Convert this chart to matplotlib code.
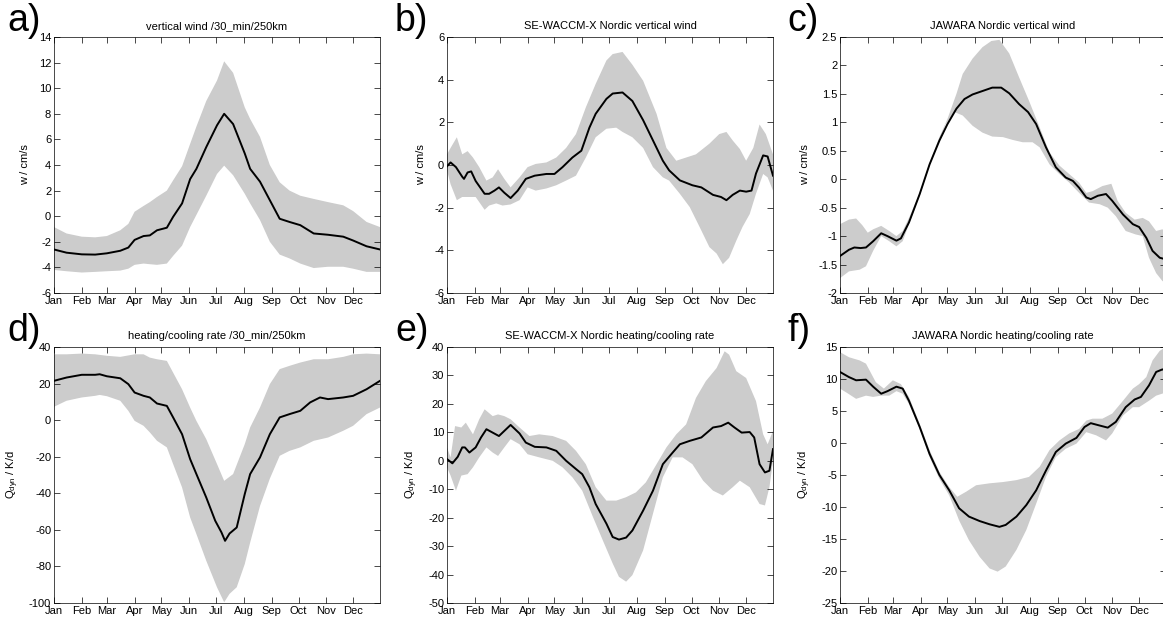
import matplotlib
matplotlib.use("Agg")
import matplotlib.pyplot as plt
from matplotlib.ticker import FuncFormatter

plt.rcParams['font.family'] = ['Liberation Sans', 'DejaVu Sans']
plt.rcParams['mathtext.fontset'] = 'custom'
plt.rcParams['mathtext.rm'] = 'Liberation Sans'
plt.rcParams['mathtext.it'] = 'Liberation Sans:italic'
plt.rcParams['axes.unicode_minus'] = False

months = ['Jan', 'Feb', 'Mar', 'Apr', 'May', 'Jun', 'Jul', 'Aug', 'Sep', 'Oct', 'Nov', 'Dec']
month_start = [1, 32, 60, 91, 121, 152, 182, 213, 244, 274, 305, 335]

# a) vertical wind /30_min/250km
a_day = [1, 15, 32, 47, 60, 75, 84, 91, 101, 108, 116, 127, 134, 144, 153, 160, 171,
         183, 191, 201, 214, 220, 231, 242, 253, 264, 276, 291, 307, 324, 335, 350, 365]
a_mean = [-2.6, -2.85, -2.98, -3.0, -2.9, -2.7, -2.45, -1.85, -1.55, -1.5, -1.1, -0.9, -0.05,
          1.0, 2.9, 3.7, 5.4, 7.1, 8.0, 7.2, 4.9, 3.7, 2.7, 1.25, -0.2, -0.45, -0.7, -1.35,
          -1.45, -1.6, -1.9, -2.35, -2.6]
a_up = [-0.85, -1.35, -1.6, -1.65, -1.55, -1.1, -0.6, 0.35, 0.8, 1.1, 1.5, 2.0, 2.8, 3.9, 5.65,
        7.0, 9.0, 10.6, 12.1, 11.2, 8.5, 7.6, 6.2, 4.0, 2.65, 2.0, 1.6, 1.35, 1.1, 0.85, 0.4,
        -0.45, -0.85]
a_lo = [-4.2, -4.3, -4.4, -4.35, -4.3, -4.25, -4.1, -3.8, -3.7, -3.75, -3.8, -3.7, -3.1, -2.3,
        -0.85, 0.1, 1.6, 3.3, 3.95, 3.2, 1.75, 1.0, -0.3, -2.0, -3.0, -3.3, -3.7, -4.05, -3.95,
        -3.95, -4.1, -4.35, -4.35]

# b) SE-WACCM-X vertical wind
b_mean_day = [1, 5, 11, 18, 20, 24, 28, 33, 43, 48, 54, 59, 65, 72, 80, 89, 99, 112, 121, 130,
              141, 151, 160, 167, 179, 186, 197, 208, 220, 231, 242, 249, 261, 275, 285, 298,
              307, 313, 320, 328, 335, 341, 346, 354, 359, 365]
b_mean = [-0.06, 0.12, -0.1, -0.55, -0.65, -0.35, -0.3, -0.75, -1.35, -1.35, -1.2, -1.05, -1.3,
          -1.55, -1.2, -0.65, -0.5, -0.42, -0.42, -0.1, 0.35, 0.67, 1.75, 2.4, 3.1, 3.35, 3.4,
          3.0, 2.1, 1.15, 0.2, -0.25, -0.72, -0.95, -1.05, -1.4, -1.5, -1.65, -1.4, -1.2, -1.25,
          -1.2, -0.4, 0.45, 0.4, -0.5]
b_up_day = [1, 5, 12, 18, 24, 30, 37, 45, 52, 58, 65, 72, 82, 91, 100, 112, 123, 134, 145, 156,
            167, 179, 186, 197, 208, 220, 235, 246, 257, 268, 279, 294, 305, 313, 320, 328,
            335, 343, 350, 357, 365]
b_up = [0.5, 0.8, 1.3, 0.5, 0.65, 0.35, -0.1, -0.73, -0.58, -0.2, -0.65, -1.05, -0.58, -0.1,
        0.05, 0.12, 0.35, 0.8, 1.45, 2.7, 3.8, 4.9, 5.2, 5.3, 4.7, 3.95, 2.4, 0.8, 0.2, 0.35,
        0.5, 1.0, 1.45, 1.55, 1.15, 0.75, 0.2, 0.8, 1.9, 1.45, 0.5]
b_lo_day = [1, 5, 12, 18, 24, 33, 43, 48, 56, 63, 72, 82, 91, 100, 112, 123, 134, 145, 156, 167,
            179, 190, 197, 208, 220, 231, 242, 249, 261, 272, 283, 294, 302, 309, 316, 324,
            331, 339, 346, 354, 359, 365]
b_lo = [-0.25, -0.9, -1.65, -1.5, -1.5, -1.5, -2.1, -1.9, -1.8, -1.9, -1.85, -1.65, -1.05, -1.2,
        -1.1, -0.95, -0.73, -0.5, 0.35, 1.3, 1.7, 1.75, 1.55, 1.3, 0.8, -0.1, -0.58, -0.73,
        -1.35, -1.97, -2.9, -3.85, -4.15, -4.65, -4.35, -3.55, -2.9, -2.3, -1.35, -0.42,
        -0.58, -1.2]

# c) JAWARA vertical wind
c_mean_day = [1, 11, 17, 24, 30, 38, 47, 54, 64, 69, 78, 90, 101, 112, 121, 131, 140, 149, 160,
              171, 181, 190, 201, 211, 220, 231, 242, 253, 261, 268, 276, 281, 289, 298, 305,
              317, 328, 335, 343, 350, 358, 365]
c_mean = [-1.35, -1.24, -1.2, -1.21, -1.2, -1.09, -0.95, -1.0, -1.08, -1.04, -0.76, -0.26, 0.26,
          0.68, 0.97, 1.24, 1.41, 1.49, 1.55, 1.61, 1.61, 1.51, 1.32, 1.18, 0.97, 0.56, 0.21,
          0.03, -0.03, -0.15, -0.32, -0.35, -0.29, -0.26, -0.38, -0.62, -0.79, -0.84, -1.03,
          -1.26, -1.38, -1.41]
c_up_day = [1, 11, 19, 26, 32, 38, 47, 56, 64, 71, 78, 90, 101, 112, 121, 131, 138, 149, 160,
            170, 179, 190, 201, 212, 224, 235, 246, 257, 268, 276, 283, 294, 304, 311, 320,
            330, 339, 346, 354, 361, 365]
c_up = [-0.79, -0.71, -0.69, -0.81, -0.94, -0.88, -0.82, -0.91, -1.0, -0.91, -0.68, -0.24, 0.29,
        0.74, 1.06, 1.5, 1.85, 2.12, 2.32, 2.43, 2.45, 2.21, 1.79, 1.38, 0.91, 0.47, 0.24, 0.09,
        -0.06, -0.24, -0.21, -0.12, -0.08, -0.38, -0.59, -0.71, -0.68, -0.74, -0.91, -0.88,
        -0.94]
c_lo_day = [1, 11, 23, 30, 38, 47, 56, 64, 71, 78, 90, 101, 112, 119, 129, 138, 149, 160, 171,
            183, 194, 205, 216, 224, 235, 246, 257, 268, 279, 291, 300, 309, 320, 331, 339,
            346, 354, 361, 365]
c_lo = [-1.74, -1.62, -1.59, -1.53, -1.26, -1.0, -1.09, -1.18, -1.09, -0.79, -0.29, 0.24, 0.68,
        0.97, 1.18, 1.12, 0.94, 0.82, 0.75, 0.74, 0.69, 0.65, 0.65, 0.56, 0.26, 0.09, -0.06,
        -0.24, -0.41, -0.44, -0.5, -0.65, -0.91, -0.97, -1.0, -1.38, -1.65, -1.79, -1.82]

# d) heating/cooling rate /30_min/250km
d_mean_day = [1, 15, 32, 47, 52, 60, 75, 84, 91, 101, 108, 116, 127, 134, 144, 153, 160, 171,
              181, 188, 192, 197, 205, 214, 220, 231, 242, 253, 264, 276, 287, 298, 307, 324,
              335, 350, 365]
d_mean = [21.5, 23.3, 24.8, 24.8, 25.1, 24.0, 22.9, 19.7, 15.1, 13.3, 12.4, 9.1, 7.8, 1.5, -7.7,
          -21.3, -29.5, -42.3, -55, -61.4, -66, -62, -58.7, -40.4, -29.5, -20.4, -7.7, 1.5, 3.3,
          5.1, 9.7, 12.4, 11.5, 12.4, 13.3, 16.9, 21.5]
d_up_day = [1, 15, 32, 47, 60, 75, 91, 101, 108, 116, 127, 134, 144, 153, 160, 171, 183, 191,
            201, 214, 220, 231, 242, 253, 264, 276, 291, 307, 324, 335, 350, 365]
d_up = [36, 36, 36.4, 36, 35.2, 34.6, 36, 36, 34.2, 33.3, 32.4, 26, 16.9, 6.9, -0.4, -10.4, -24,
        -33.2, -29.5, -13.1, -4.0, 6.9, 19.7, 27.9, 29.7, 31.5, 33.3, 33.3, 34.6, 36, 36.4, 36]
d_lo_day = [1, 15, 32, 47, 52, 60, 75, 84, 91, 101, 108, 116, 127, 134, 144, 153, 160, 171, 183,
            191, 197, 205, 214, 220, 231, 242, 253, 264, 276, 291, 307, 324, 335, 350, 365]
d_lo = [7.3, 10.6, 12.4, 13.3, 13.8, 13.1, 10.6, 5.1, -0.4, -3.1, -6.7, -11.3, -14.9, -24, -36.8,
        -53.2, -62.3, -76.9, -91.4, -99.6, -95, -91.4, -78.7, -67, -47, -32, -19.5, -16.8,
        -14.9, -11.3, -9.5, -5.8, -3.1, 3.3, 6.9]

# e) SE-WACCM-X heating/cooling rate
e_mean_day = [1, 7, 13, 18, 21, 26, 33, 39, 45, 52, 59, 67, 72, 82, 89, 99, 112, 123, 134, 145,
              152, 160, 167, 179, 186, 193, 201, 208, 220, 231, 242, 253, 261, 272, 285, 298,
              307, 315, 322, 330, 339, 344, 350, 356, 361, 365]
e_mean = [0.6, -0.9, 1.4, 4.7, 4.7, 2.9, 4.7, 8.2, 11.1, 9.9, 8.7, 11.1, 12.6, 9.6, 6.4, 4.9, 4.7,
          3.5, 0, -2.9, -4.7, -9.3, -15.2, -22.1, -26.8, -27.7, -27.0, -24.5, -17.5, -10.5,
          -1.2, 2.9, 5.8, 7.0, 8.2, 11.7, 12.2, 13.4, 11.7, 9.9, 10.1, 8.2, -1.2, -4.1, -3.5, 4.1]
e_up_day = [1, 5, 10, 17, 22, 30, 37, 43, 52, 58, 65, 72, 82, 93, 104, 119, 134, 145, 156, 167,
            179, 190, 201, 212, 223, 235, 246, 257, 268, 279, 290, 302, 311, 316, 324, 335,
            346, 354, 359, 365]
e_up = [4.7, 1.2, 12.2, 11.7, 13.4, 9.3, 14.6, 18.1, 15.7, 16.3, 15.7, 14.6, 11.7, 8.7, 9.3, 8.7,
        7.0, 3.5, -1.2, -9.3, -14.0, -14.0, -12.8, -11.1, -7.6, -1.2, 4.7, 9.3, 12.8, 22.1,
        28.0, 32.6, 38.5, 37.3, 31.5, 29.1, 21.0, 9.3, 5.8, 10.5]
e_lo_day = [1, 5, 11, 17, 24, 30, 37, 45, 52, 58, 65, 72, 82, 91, 104, 119, 130, 141, 152, 164,
            175, 186, 193, 201, 208, 220, 231, 242, 253, 264, 275, 287, 298, 309, 320, 328,
            339, 350, 356, 361, 365]
e_lo = [-2.3, -5.2, -10.5, -5.2, -4.7, -2.3, 1.2, 4.7, 2.9, 1.7, 4.7, 7.6, 5.8, 2.3, 1.2, 0,
        -2.3, -5.8, -10.5, -19.8, -28.0, -36.1, -40.8, -42.5, -40.2, -31.5, -18.6, -5.8, 1.2,
        1.2, -1.2, -7.0, -10.5, -12.2, -9.3, -7.0, -9.3, -15.2, -15.7, -9.3, 0]

# f) JAWARA heating/cooling rate
f_mean_day = [1, 11, 19, 30, 38, 47, 54, 64, 71, 78, 90, 101, 112, 123, 134, 145, 157, 168, 179,
              186, 198, 209, 220, 231, 242, 253, 265, 274, 281, 289, 300, 309, 320, 330, 337,
              346, 354, 361, 365]
f_mean = [11.1, 10.3, 9.8, 9.9, 8.8, 7.7, 8.1, 8.8, 8.5, 6.6, 2.5, -1.7, -5.0, -7.4, -10.2, -11.5,
          -12.2, -12.7, -13.1, -12.8, -11.5, -9.7, -7.4, -4.3, -1.4, -0.1, 0.8, 2.5, 3.1, 2.8,
          2.4, 3.3, 5.6, 6.8, 7.2, 9.0, 11.1, 11.5, 11.3]
f_up_day = [1, 11, 23, 30, 41, 50, 60, 69, 78, 90, 101, 112, 123, 132, 142, 153, 168, 183, 198,
            212, 224, 235, 246, 257, 268, 276, 283, 294, 305, 317, 328, 335, 343, 350, 358, 365]
f_up = [14.2, 13.4, 12.9, 12.4, 9.5, 8.5, 9.8, 9.2, 7.2, 3.0, -1.1, -4.5, -6.9, -8.4, -7.6, -6.6,
        -6.3, -6.1, -5.8, -5.3, -3.7, -1.1, 0.4, 1.5, 2.2, 3.5, 3.8, 3.8, 4.6, 6.6, 8.5, 9.2,
        10.3, 12.9, 14.4, 15.0]
f_lo_day = [1, 8, 19, 30, 38, 47, 56, 64, 71, 78, 90, 101, 112, 123, 134, 145, 157, 168, 177,
            186, 198, 209, 220, 231, 242, 253, 265, 276, 287, 298, 305, 317, 328, 335, 346,
            354, 365]
f_lo = [8.5, 7.9, 6.9, 7.4, 7.2, 7.4, 7.4, 8.1, 7.7, 6.1, 2.2, -2.2, -5.6, -8.2, -12.1, -15.2,
        -17.8, -19.6, -20.1, -19.3, -16.7, -13.6, -9.5, -5.3, -2.2, -0.9, -0.1, 1.7, 1.2, 0.4,
        1.5, 4.3, 5.6, 5.6, 6.6, 7.4, 7.9]

W, H = 1163, 619
q_label = r'Q$_{\rm dyn}$ / K/d'


def _panel(rect, letter, letter_x, title, ylabel, ylim, yticks,
           mean_day, mean, up_day, up, lo_day, lo):
    x0, y0, x1, y1 = rect  # pixels, top-left origin
    ax = fig.add_axes([x0 / W, 1 - y1 / H, (x1 - x0) / W, (y1 - y0) / H])
    ax.fill(list(up_day) + list(lo_day)[::-1], list(up) + list(lo)[::-1],
            color='#cccccc', lw=0)
    ax.plot(mean_day, mean, color='k', lw=1.4)
    ax.set_xlim(1, 365)
    ax.set_ylim(*ylim)
    ax.set_xticks(month_start)
    ax.set_xticklabels(months)
    ax.set_yticks(yticks)
    ax.yaxis.set_major_formatter(FuncFormatter(lambda v, p: '%g' % v))
    ax.tick_params(direction='in', top=True, right=True, length=4, width=0.5,
                   labelsize=8, pad=2)
    for s in ax.spines.values():
        s.set_linewidth(0.5)
    ax.set_title(title, fontsize=8, pad=6)
    ax.set_ylabel(ylabel, fontsize=8, labelpad=6)
    # panel letter sits above-left of the axes box
    fig.text(letter_x / W, 1 - (y0 - 34) / H, letter, fontsize=27,
             va='top', ha='left')
    return ax


fig = plt.figure(figsize=(W / 100, H / 100), dpi=100)

_panel((54, 37, 380, 293), 'a)', 7, 'vertical wind /30_min/250km', 'w / cm/s',
       (-6, 14), range(-6, 15, 2), a_day, a_mean, a_day, a_up, a_day, a_lo)
_panel((447, 37, 773, 293), 'b)', 395, 'SE-WACCM-X Nordic vertical wind', 'w / cm/s',
       (-6, 6), range(-6, 7, 2), b_mean_day, b_mean, b_up_day, b_up, b_lo_day, b_lo)
_panel((840, 37, 1166, 293), 'c)', 787, 'JAWARA Nordic vertical wind', 'w / cm/s',
       (-2, 2.5), [-2, -1.5, -1, -0.5, 0, 0.5, 1, 1.5, 2, 2.5],
       c_mean_day, c_mean, c_up_day, c_up, c_lo_day, c_lo)
_panel((54, 347, 380, 603), 'd)', 7, 'heating/cooling rate /30_min/250km', q_label,
       (-100, 40), range(-100, 41, 20), d_mean_day, d_mean, d_up_day, d_up, d_lo_day, d_lo)
_panel((447, 347, 773, 603), 'e)', 395, 'SE-WACCM-X Nordic heating/cooling rate', q_label,
       (-50, 40), range(-50, 41, 10), e_mean_day, e_mean, e_up_day, e_up, e_lo_day, e_lo)
_panel((840, 347, 1166, 603), 'f)', 787, 'JAWARA Nordic heating/cooling rate', q_label,
       (-25, 15), range(-25, 16, 5), f_mean_day, f_mean, f_up_day, f_up, f_lo_day, f_lo)

fig.savefig('out.png', dpi=100)
plt.close(fig)
